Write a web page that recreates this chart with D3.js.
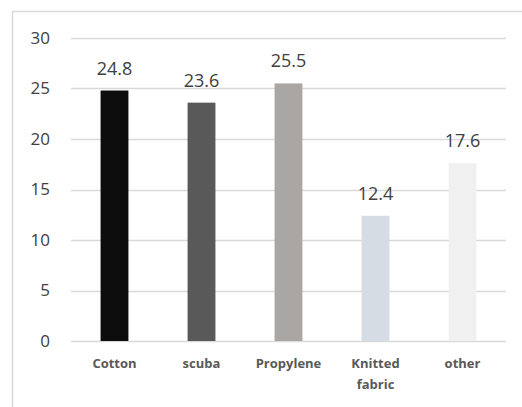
<!DOCTYPE html>
<html>
<head>
<meta charset="utf-8">
<script src="https://cdn.jsdelivr.net/npm/d3@7"></script>
<style>
  html, body { margin: 0; padding: 0; background: #fff; }
  svg { display: block; }
</style>
</head>
<body>
<script>
// Fabric categories and their values
const categories = ["Cotton", "scuba", "Propylene", "Knitted fabric", "other"];
const values = [24.8, 23.6, 25.5, 12.4, 17.6];
const barColors = ["#0d0d0d", "#595959", "#a9a6a4", "#d6dce4", "#f0f0f0"];
const yTicks = [0, 5, 10, 15, 20, 25, 30];

const W = 522, H = 407;
const svg = d3.select("body").append("svg").attr("width", W).attr("height", H);

// chart frame
svg.append("path")
  .attr("d", `M12.5,${H} V11.5 H${W}`)
  .attr("fill", "none").attr("stroke", "#d9d9d9").attr("stroke-width", 1.5);

const plot = { left: 71, right: 506, top: 38, bottom: 341 };

const x = d3.scaleBand().domain(categories).range([plot.left, plot.right]).paddingInner(0.68).paddingOuter(0.34);
const y = d3.scaleLinear().domain([0, 30]).range([plot.bottom, plot.top]);

// horizontal gridlines
svg.append("g").selectAll("line").data(yTicks).join("line")
  .attr("x1", plot.left).attr("x2", plot.right)
  .attr("y1", d => Math.round(y(d)) + 0.5).attr("y2", d => Math.round(y(d)) + 0.5)
  .attr("stroke", "#d9d9d9").attr("stroke-width", 1.5);

// y axis labels
const yAxis = d3.axisLeft(y).tickValues(yTicks).tickSize(0).tickPadding(0);
const gy = svg.append("g").attr("transform", "translate(50,0)").call(yAxis);
gy.select(".domain").remove();
gy.selectAll("text")
  .attr("font-family", "'Open Sans', sans-serif").attr("font-size", 17)
  .attr("fill", "#404040");

// bars
svg.append("g").selectAll("rect").data(values).join("rect")
  .attr("x", (d, i) => x(categories[i]))
  .attr("width", x.bandwidth())
  .attr("y", d => y(d))
  .attr("height", d => y(0) - y(d))
  .attr("fill", (d, i) => barColors[i]);

// value labels
svg.append("g").selectAll("text").data(values).join("text")
  .attr("x", (d, i) => x(categories[i]) + x.bandwidth() / 2)
  .attr("y", d => y(d) - 16)
  .attr("text-anchor", "middle")
  .attr("font-family", "'Open Sans', sans-serif").attr("font-size", 18)
  .attr("fill", "#404040")
  .text(d => d.toFixed(1));

// category labels (wrapped onto lines)
const xl = svg.append("g").selectAll("text").data(categories).join("text")
  .attr("x", d => x(d) + x.bandwidth() / 2)
  .attr("y", 368)
  .attr("text-anchor", "middle")
  .attr("font-family", "'Open Sans', sans-serif").attr("font-size", 13).attr("font-weight", "bold")
  .attr("fill", "#595959");
xl.each(function(d) {
  const words = d.split(" ");
  const t = d3.select(this);
  words.forEach((w, i) => {
    t.append("tspan").attr("x", t.attr("x")).attr("dy", i === 0 ? 0 : 21).text(w);
  });
});
</script>
</body>
</html>
